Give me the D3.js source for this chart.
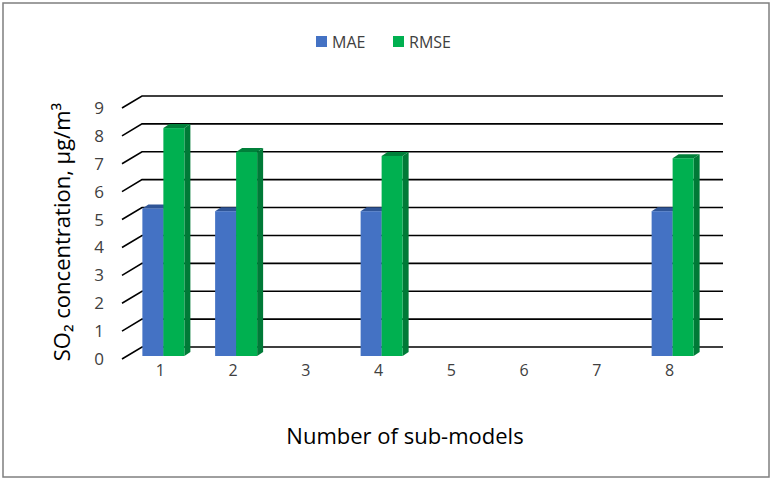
<!DOCTYPE html>
<html><head><meta charset="utf-8">
<script src="https://cdn.jsdelivr.net/npm/d3@7"></script>
<style>body{margin:0;background:#fff}svg{font-family:"Open Sans",sans-serif}</style>
</head><body><svg id="c" width="773" height="481"></svg>
<script>
var categories = ["1","2","3","4","5","6","7","8"];
var maeValues = [5.4, 5.3, null, 5.3, null, null, null, 5.3];
var rmseValues = [8.28, 7.42, null, 7.28, null, null, null, 7.2];
var yTicks = [0,1,2,3,4,5,6,7,8,9];

var svg = d3.select("#c");
svg.append("rect").attr("x",3).attr("y",3).attr("width",766).attr("height",474)
    .attr("fill","#fff").attr("stroke","#7f7f7f").attr("stroke-width",1.5);

var dx = 20, dy = 12; // depth offset for the 3d look
var x = d3.scaleBand().domain(categories).range([123, 705]);
var y = d3.scaleLinear().domain([0, 9]).range([359, 108]);

// gridlines with slanted depth piece
yTicks.forEach(function(t) {
    var yy = y(t);
    svg.append("path")
        .attr("d", "M122," + yy + "L142," + (yy - dy) + "L723," + (yy - dy))
        .attr("fill","none").attr("stroke","#000").attr("stroke-width",1.6);
    svg.append("text").attr("x",104).attr("y",yy + 6).attr("text-anchor","end")
        .attr("font-size",17).attr("fill","#404040").text(t);
});

var bw = 21, sd = 6, td = 4;
function bar(cat, v, off, face, side, top) {
    if (v == null) return;
    var x0 = x(cat) + x.bandwidth() / 2 - bw + off + 4, y0 = y(v), yb = 356;
    var g = svg.append("g");
    g.append("path").attr("d","M"+(x0+bw)+","+y0+"l"+sd+","+(-td)+"L"+(x0+bw+sd)+","+(yb-td)+"l"+(-sd)+","+td+"Z").attr("fill",side);
    g.append("path").attr("d","M"+x0+","+y0+"l"+sd+","+(-td)+"l"+bw+",0l"+(-sd)+","+td+"Z").attr("fill",top);
    g.append("rect").attr("x",x0).attr("y",y0).attr("width",bw).attr("height",yb - y0).attr("fill",face);
}
categories.forEach(function(c, i) {
    bar(c, maeValues[i], 0, "#4472c4", "#2f5597", "#2f5597");
    bar(c, rmseValues[i], bw, "#00b050", "#007a37", "#00803a");
    svg.append("text").attr("x", x(c) + x.bandwidth() / 2 + 1).attr("y", 376)
        .attr("text-anchor","middle").attr("font-size",16).attr("fill","#404040").text(c);
});

svg.append("text").attr("x",405).attr("y",444).attr("text-anchor","middle")
    .attr("font-size",22).text("Number of sub-models");
svg.append("text").attr("transform","translate(70,232) rotate(-90)").attr("text-anchor","middle")
    .attr("font-size",22).text("SO\u2082 concentration, \u00b5g/m\u00b3");

var legend = [["MAE","#4472c4",316],["RMSE","#00b050",393]];
legend.forEach(function(l) {
    svg.append("rect").attr("x",l[2]).attr("y",36).attr("width",11).attr("height",11).attr("fill",l[1]);
    svg.append("text").attr("x",l[2] + 16).attr("y",48).attr("font-size",16).attr("fill","#404040").text(l[0]);
});
</script></body></html>
